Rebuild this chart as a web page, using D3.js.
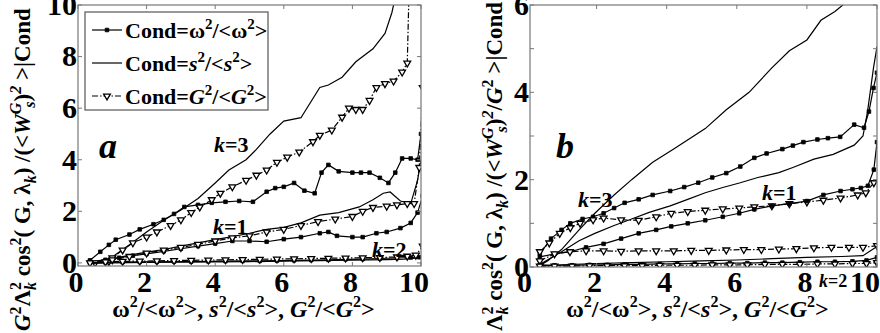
<!DOCTYPE html>
<html>
<head>
<meta charset="utf-8">
<script src="https://cdn.jsdelivr.net/npm/d3@7"></script>
<style>
  body { margin: 0; background: #fff; }
</style>
</head>
<body>
<script>
  var w = 880, h = 333;
  var serif = "'Liberation Serif', 'Times New Roman', 'DejaVu Serif', serif";

  // panel a : <W^G_s ^2> normalised, Cond = omega^2, s^2, G^2 ; k = 1,2,3
  var aW3 = [[0.35,0.1],[0.65,0.43],[0.9,0.7],[1.1,0.9],[1.5,1.1],[1.8,1.3],[2.2,1.5],[2.5,1.67],[2.8,1.9],[3.1,2.17],[3.5,2.25],[3.9,2.33],[4.3,2.37],[4.7,2.4],[5.1,2.37],[5.5,2.76],[5.75,2.9],[6.0,2.95],[6.3,3.1],[6.6,2.8],[6.9,2.7],[7.1,3.5],[7.3,3.8],[7.6,3.55],[8.0,3.5],[8.25,3.5],[8.5,3.5],[8.8,3.3],[9.05,3.1],[9.25,3.5],[9.45,4.05],[9.7,4.05],[9.9,4.0],[10.0,5.0],[10.1,5.0]];
  var aS3 = [[0.35,0.0],[0.7,0.05],[1.0,0.23],[1.5,0.7],[2.0,1.2],[2.5,1.65],[3.0,2.05],[3.5,2.5],[4.0,3.1],[4.4,3.6],[4.9,4.0],[5.2,4.4],[5.6,5.0],[6.0,5.5],[6.5,5.63],[7.05,6.8],[7.3,6.9],[7.7,7.2],[8.1,7.8],[8.6,8.3],[8.95,8.9],[9.15,9.7],[9.3,10.6]];
  var aG3 = [[0.9,0.05],[1.0,0.2],[1.3,0.5],[1.6,0.78],[2.0,1.0],[2.3,1.2],[2.7,1.45],[3.0,1.67],[3.3,1.95],[3.55,2.17],[3.9,2.45],[4.15,2.7],[4.5,2.95],[4.9,3.2],[5.2,3.4],[5.5,3.6],[5.8,3.9],[6.1,4.1],[6.45,4.3],[6.85,4.7],[7.05,4.95],[7.4,5.15],[7.7,5.65],[7.9,6.0],[8.1,5.95],[8.3,5.95],[8.5,6.3],[8.7,6.8],[8.95,6.95],[9.2,7.05],[9.45,7.4],[9.6,7.75],[9.65,10.5]];
  var aW1 = [[0.35,0.05],[0.8,0.12],[1.2,0.2],[1.6,0.28],[2.0,0.35],[2.5,0.45],[3.0,0.55],[3.5,0.65],[4.0,0.75],[4.5,0.85],[5.0,0.85],[5.5,0.82],[6.0,0.92],[6.5,1.0],[7.05,1.15],[7.3,1.2],[7.55,1.05],[8.0,1.0],[8.3,1.0],[8.7,1.15],[9.0,1.2],[9.4,1.35],[9.7,1.55],[9.9,1.95],[10.05,2.6]];
  var aS1 = [[0.35,0.0],[1.0,0.15],[1.5,0.3],[2.0,0.42],[2.5,0.52],[3.0,0.65],[3.5,0.78],[4.0,0.9],[4.5,1.02],[5.0,1.15],[5.5,1.3],[6.0,1.38],[6.5,1.55],[7.05,1.85],[7.6,1.95],[8.2,2.17],[8.6,2.45],[8.9,2.7],[9.1,2.75],[9.4,2.4],[9.7,2.3],[9.9,3.2],[10.0,4.0],[10.1,4.1]];
  var aG1 = [[0.5,0.0],[1.0,0.12],[1.5,0.25],[2.0,0.38],[2.5,0.5],[3.0,0.6],[3.5,0.72],[4.0,0.85],[4.5,0.97],[5.0,1.05],[5.5,1.2],[6.0,1.3],[6.5,1.45],[7.0,1.6],[7.5,1.7],[8.0,1.8],[8.3,2.0],[8.6,2.15],[9.0,2.2],[9.3,2.25],[9.6,2.3],[9.8,2.3],[9.95,3.7],[10.05,6.8]];
  var aW2 = [[0.35,0.0],[0.8,0.02],[1.3,0.03],[1.8,0.04],[2.3,0.04],[2.8,0.05],[3.3,0.05],[3.8,0.06],[4.3,0.07],[4.8,0.08],[5.3,0.08],[5.8,0.09],[6.3,0.1],[6.8,0.11],[7.3,0.12],[7.8,0.14],[8.3,0.15],[8.8,0.17],[9.3,0.19],[9.7,0.21],[9.95,0.22],[10.1,0.35]];
  var aS2 = [[0.35,-0.02],[1.0,0.0],[2.0,0.02],[3.0,0.03],[4.0,0.04],[5.0,0.05],[6.0,0.07],[7.0,0.09],[8.0,0.11],[9.0,0.13],[9.5,0.15],[10.0,0.2],[10.1,0.4]];
  var aG2 = [[0.35,0.0],[0.8,0.04],[1.3,0.06],[1.8,0.07],[2.3,0.08],[2.8,0.09],[3.3,0.1],[3.8,0.11],[4.3,0.12],[4.8,0.13],[5.3,0.14],[5.8,0.15],[6.3,0.16],[6.8,0.17],[7.3,0.18],[7.8,0.19],[8.3,0.2],[8.8,0.21],[9.3,0.23],[9.6,0.26],[9.85,0.3],[10.05,0.65]];

  // panel b : <W^G_s ^2 / G^2> normalised
  var bS3 = [[0.3,0.0],[0.6,0.14],[1.0,0.4],[1.5,0.85],[1.95,1.23],[2.5,1.65],[3.0,2.0],[3.6,2.4],[4.2,2.7],[5.1,3.17],[5.7,3.6],[6.35,4.0],[7.0,4.56],[7.5,4.95],[8.0,5.2],[8.4,5.65],[8.8,5.85],[9.1,6.05]];
  var bW3 = [[0.38,0.3],[0.7,0.65],[1.0,0.85],[1.25,1.0],[1.6,1.1],[1.9,1.15],[2.2,1.23],[2.5,1.35],[2.8,1.47],[3.2,1.55],[3.6,1.65],[4.1,1.74],[4.5,1.83],[4.9,1.93],[5.3,2.05],[5.7,2.15],[6.1,2.3],[6.5,2.5],[6.85,2.6],[7.3,2.7],[7.6,2.78],[7.9,2.86],[8.3,2.92],[8.6,2.95],[8.95,2.98],[9.35,3.26],[9.63,3.19],[9.77,3.56],[9.9,4.1],[10.0,4.45]];
  var bS1 = [[0.4,0.07],[1.0,0.35],[1.5,0.6],[1.95,0.77],[2.5,0.95],[3.0,1.1],[3.5,1.25],[4.1,1.4],[4.6,1.55],[5.1,1.7],[5.6,1.82],[6.1,1.93],[6.6,2.05],[7.2,2.16],[7.6,2.28],[8.2,2.47],[8.75,2.58],[9.35,2.79],[9.6,3.0],[9.73,3.56],[9.9,4.56],[10.0,5.05]];
  var bG3 = [[0.38,0.35],[0.65,0.55],[0.95,0.77],[1.25,0.9],[1.53,1.0],[1.9,1.08],[2.2,1.12],[2.7,1.08],[3.2,1.07],[3.7,1.15],[4.13,1.23],[4.6,1.27],[5.1,1.3],[5.6,1.33],[6.07,1.35],[6.5,1.38],[7.0,1.4],[7.5,1.45],[8.0,1.49],[8.47,1.53],[8.96,1.58],[9.45,1.65],[9.68,1.7],[9.91,1.93]];
  var bW1 = [[0.38,0.23],[0.8,0.3],[1.24,0.35],[1.7,0.45],[2.2,0.53],[2.7,0.65],[3.2,0.77],[3.7,0.85],[4.13,0.93],[4.6,1.0],[5.1,1.07],[5.6,1.15],[6.07,1.23],[6.5,1.32],[7.0,1.4],[7.5,1.45],[8.0,1.51],[8.47,1.65],[8.96,1.74],[9.3,1.78],[9.54,1.81],[9.74,1.86],[9.91,2.23],[10.0,2.86]];
  var bG1 = [[0.38,0.14],[0.8,0.3],[1.24,0.35],[1.7,0.37],[2.2,0.37],[2.7,0.36],[3.2,0.37],[3.7,0.37],[4.2,0.37],[4.7,0.38],[5.2,0.38],[5.7,0.39],[6.2,0.4],[6.7,0.4],[7.2,0.41],[7.7,0.42],[8.2,0.44],[8.7,0.45],[9.2,0.45],[9.6,0.45],[10.0,0.49]];
  var bW2 = [[0.38,0.05],[0.8,0.04],[1.3,0.04],[1.8,0.05],[2.3,0.05],[2.8,0.06],[3.3,0.06],[3.8,0.07],[4.3,0.07],[4.8,0.08],[5.3,0.08],[5.8,0.09],[6.3,0.09],[6.8,0.1],[7.3,0.1],[7.8,0.11],[8.3,0.12],[8.8,0.12],[9.3,0.13],[9.7,0.15],[10.0,0.22]];
  var bS2 = [[0.38,0.02],[1.0,0.05],[2.0,0.08],[3.0,0.1],[4.0,0.12],[5.0,0.14],[6.0,0.16],[7.0,0.19],[8.0,0.22],[9.0,0.24],[9.6,0.26],[10.0,0.47]];
  var bG2 = [[0.38,0.02],[0.8,0.02],[1.3,0.02],[1.8,0.03],[2.3,0.03],[2.8,0.03],[3.3,0.03],[3.8,0.04],[4.3,0.04],[4.8,0.04],[5.3,0.05],[5.8,0.05],[6.3,0.05],[6.8,0.06],[7.3,0.06],[7.8,0.06],[8.3,0.07],[8.8,0.07],[9.3,0.08],[9.7,0.08],[10.0,0.1]];

  var xTicks = [0, 2, 4, 6, 8, 10];
  var aYTicks = [0, 2, 4, 6, 8, 10];
  var bYTicks = [0, 1, 2, 3, 4, 5, 6];
  var bYLabels = [0, 2, 4, 6];

  var svg = d3.select("body").append("svg").attr("width", w).attr("height", h)
    .attr("font-family", serif);

  var panels = [
    { id: "a", x: d3.scaleLinear().domain([0, 10]).range([78, 421]),
      y: d3.scaleLinear().domain([-0.12, 10]).range([266, 5]),
      yTicks: aYTicks, yLabels: aYTicks, lastDx: -7,
      series: [[aW3, "w"], [aS3, "s"], [aG3, "g"], [aW1, "w"], [aS1, "s"], [aG1, "g"], [aW2, "w"], [aS2, "s"], [aG2, "g"]] },
    { id: "b", x: d3.scaleLinear().domain([0.1, 10]).range([530, 877]),
      y: d3.scaleLinear().domain([0, 6]).range([267, 5]),
      yTicks: bYTicks, yLabels: bYLabels, lastDx: -12,
      series: [[bS3, "s"], [bW3, "w"], [bS1, "s"], [bG3, "g"], [bW1, "w"], [bG1, "g"], [bW2, "w"], [bS2, "s"], [bG2, "g"]] }
  ];

  function marker(g, kind, px, py) {
    if (kind == "w") {
      g.append("path").attr("d", d3.symbol().type(d3.symbolSquare).size(13)())
        .attr("transform", "translate(" + px + "," + py + ")")
        .attr("fill", "#000").attr("stroke", "#000").attr("stroke-width", 0.8);
    } else if (kind == "g") {
      g.append("path").attr("d", d3.symbol().type(d3.symbolTriangle).size(20)())
        .attr("transform", "translate(" + px + "," + py + ") rotate(180)")
        .attr("fill", "#fff").attr("stroke", "#000").attr("stroke-width", 1.3);
    }
  }

  panels.forEach(function (p) {
    var x = p.x, y = p.y;
    var x0 = x.range()[0], x1 = x.range()[1], y0 = y.range()[0], y1 = y.range()[1];

    svg.append("clipPath").attr("id", "clip" + p.id)
      .append("rect").attr("x", x0).attr("y", y1).attr("width", x1 - x0).attr("height", y0 - y1);

    var plot = svg.append("g").attr("clip-path", "url(#clip" + p.id + ")");
    var line = d3.line().x(function (d) { return x(d[0]); }).y(function (d) { return y(d[1]); });

    p.series.forEach(function (s) {
      var data = s[0], kind = s[1];
      plot.append("path").datum(data).attr("d", line)
        .attr("fill", "none").attr("stroke", "#000").attr("stroke-width", 1.2)
        .attr("stroke-dasharray", kind == "g" ? "6,2,1.5,2" : null);
      if (kind != "s") {
        data.forEach(function (d) { marker(plot, kind, x(d[0]), y(d[1])); });
      }
    });

    // box
    svg.append("rect").attr("x", x0).attr("y", y1).attr("width", x1 - x0).attr("height", y0 - y1)
      .attr("fill", "none").attr("stroke", "#777").attr("stroke-width", 1.2);

    // ticks, MATLAB style, inward on all sides
    xTicks.forEach(function (t, i) {
      svg.append("line").attr("x1", x(t)).attr("x2", x(t)).attr("y1", y0).attr("y2", y0 - 4).attr("stroke", "#777");
      svg.append("line").attr("x1", x(t)).attr("x2", x(t)).attr("y1", y1).attr("y2", y1 + 4).attr("stroke", "#777");
      svg.append("text").attr("x", x(t)).attr("dx", i == xTicks.length - 1 ? p.lastDx : -2)
        .attr("y", 292).attr("text-anchor", "middle")
        .attr("font-size", 30).attr("font-weight", "bold").text(t);
    });
    p.yTicks.forEach(function (t) {
      svg.append("line").attr("x1", x0).attr("x2", x0 + 4).attr("y1", y(t)).attr("y2", y(t)).attr("stroke", "#777");
      svg.append("line").attr("x1", x1).attr("x2", x1 - 4).attr("y1", y(t)).attr("y2", y(t)).attr("stroke", "#777");
    });
    p.yLabels.forEach(function (t) {
      svg.append("text").attr("x", x0 - 1).attr("y", y(t)).attr("dy", "0.33em").attr("text-anchor", "end")
        .attr("font-size", 30).attr("font-weight", "bold").text(t);
    });

    // x-axis title
    var xt = svg.append("text").attr("x", (x0 + x1) / 2 - 6).attr("y", 317).attr("text-anchor", "middle")
      .attr("font-size", 24).attr("font-weight", "bold");
    xt.append("tspan").text("\u03c9");
    xt.append("tspan").attr("dy", -10).attr("font-size", 16).text("2");
    xt.append("tspan").attr("dy", 10).text("/<\u03c9");
    xt.append("tspan").attr("dy", -10).attr("font-size", 16).text("2");
    xt.append("tspan").attr("dy", 10).text(">, ");
    xt.append("tspan").attr("font-style", "italic").text("s");
    xt.append("tspan").attr("dy", -10).attr("font-size", 16).text("2");
    xt.append("tspan").attr("dy", 10).text("/<");
    xt.append("tspan").attr("font-style", "italic").text("s");
    xt.append("tspan").attr("dy", -10).attr("font-size", 16).text("2");
    xt.append("tspan").attr("dy", 10).text(">, ");
    xt.append("tspan").attr("font-style", "italic").text("G");
    xt.append("tspan").attr("dy", -10).attr("font-size", 16).text("2");
    xt.append("tspan").attr("dy", 10).text("/<");
    xt.append("tspan").attr("font-style", "italic").text("G");
    xt.append("tspan").attr("dy", -10).attr("font-size", 16).text("2");
    xt.append("tspan").attr("dy", 10).text(">");
  });

  // y-axis titles (rotated)
  function ytitle(cx, withG) {
    var t = svg.append("text").attr("transform", "translate(" + cx + ",331) rotate(-90)")
      .attr("font-size", 23).attr("font-weight", "bold");
    if (!withG) {
      t.append("tspan").attr("font-style", "italic").text("G");
      t.append("tspan").attr("dy", -9).attr("font-size", 16).text("2");
      t.append("tspan").attr("dy", 9).text("\u039b");
    } else {
      t.append("tspan").text("\u039b");
    }
    t.append("tspan").attr("dy", -9).attr("font-size", 16).text("2");
    t.append("tspan").attr("dy", 15).attr("dx", -8).attr("font-size", 16).attr("font-style", "italic").text("k");
    t.append("tspan").attr("dy", -6).text(" cos");
    t.append("tspan").attr("dy", -9).attr("font-size", 16).text("2");
    t.append("tspan").attr("dy", 9).text("( G, \u03bb");
    t.append("tspan").attr("dy", 6).attr("font-size", 16).attr("font-style", "italic").text("k");
    t.append("tspan").attr("dy", -6).text(") /(<");
    t.append("tspan").attr("font-style", "italic").text("W");
    t.append("tspan").attr("dy", -9).attr("font-size", 16).attr("font-style", "italic").text("G");
    t.append("tspan").attr("dy", 14).attr("dx", -5).attr("font-size", 16).attr("font-style", "italic").text("s");
    t.append("tspan").attr("dy", -5).text(")");
    t.append("tspan").attr("dy", -9).attr("font-size", 16).attr("font-style", "italic").text("2");
    if (withG) {
      t.append("tspan").attr("dy", 9).text("/");
      t.append("tspan").attr("font-style", "italic").text("G");
      t.append("tspan").attr("dy", -9).attr("font-size", 16).text("2");
    }
    t.append("tspan").attr("dy", 9).text(" >|Cond");
  }
  ytitle(30, false);
  ytitle(502, true);

  // legend in panel a
  var legendItems = [["w", "\u03c9", false], ["s", "s", true], ["g", "G", true]];
  var lg = svg.append("g");
  lg.append("rect").attr("x", 85).attr("y", 12).attr("width", 183).attr("height", 98)
    .attr("fill", "#fff").attr("stroke", "#555").attr("stroke-width", 1.2);
  legendItems.forEach(function (it, i) {
    var ly = 30 + i * 33;
    lg.append("line").attr("x1", 92).attr("x2", 122).attr("y1", ly).attr("y2", ly)
      .attr("stroke", "#000").attr("stroke-width", 1.2)
      .attr("stroke-dasharray", it[0] == "g" ? "6,2,1.5,2" : null);
    marker(lg, it[0], 107, ly);
    var t = lg.append("text").attr("x", 125).attr("y", ly + 8).attr("font-size", 22).attr("font-weight", "bold");
    t.append("tspan").text("Cond=");
    t.append("tspan").attr("font-style", it[2] ? "italic" : null).text(it[1]);
    t.append("tspan").attr("dy", -9).attr("font-size", 15).text("2");
    t.append("tspan").attr("dy", 9).text("/<");
    t.append("tspan").attr("font-style", it[2] ? "italic" : null).text(it[1]);
    t.append("tspan").attr("dy", -9).attr("font-size", 15).text("2");
    t.append("tspan").attr("dy", 9).text(">");
  });

  // annotations
  var notes = [["a", 99, 158, 36], ["b", 556, 158, 36]];
  notes.forEach(function (n) {
    svg.append("text").attr("x", n[1]).attr("y", n[2]).attr("font-size", n[3])
      .attr("font-weight", "bold").attr("font-style", "italic").text(n[0]);
  });
  var kLabels = [["3", 214, 152, 22], ["1", 213, 234, 22], ["2", 372, 257, 22], ["3", 578, 207, 22], ["1", 762, 200, 22], ["2", 819, 287, 18]];
  kLabels.forEach(function (k) {
    var t = svg.append("text").attr("x", k[1]).attr("y", k[2]).attr("font-size", k[3])
      .attr("font-weight", "bold");
    t.append("tspan").attr("font-style", "italic").text("k");
    t.append("tspan").text("=" + k[0]);
  });
</script>
</body>
</html>
